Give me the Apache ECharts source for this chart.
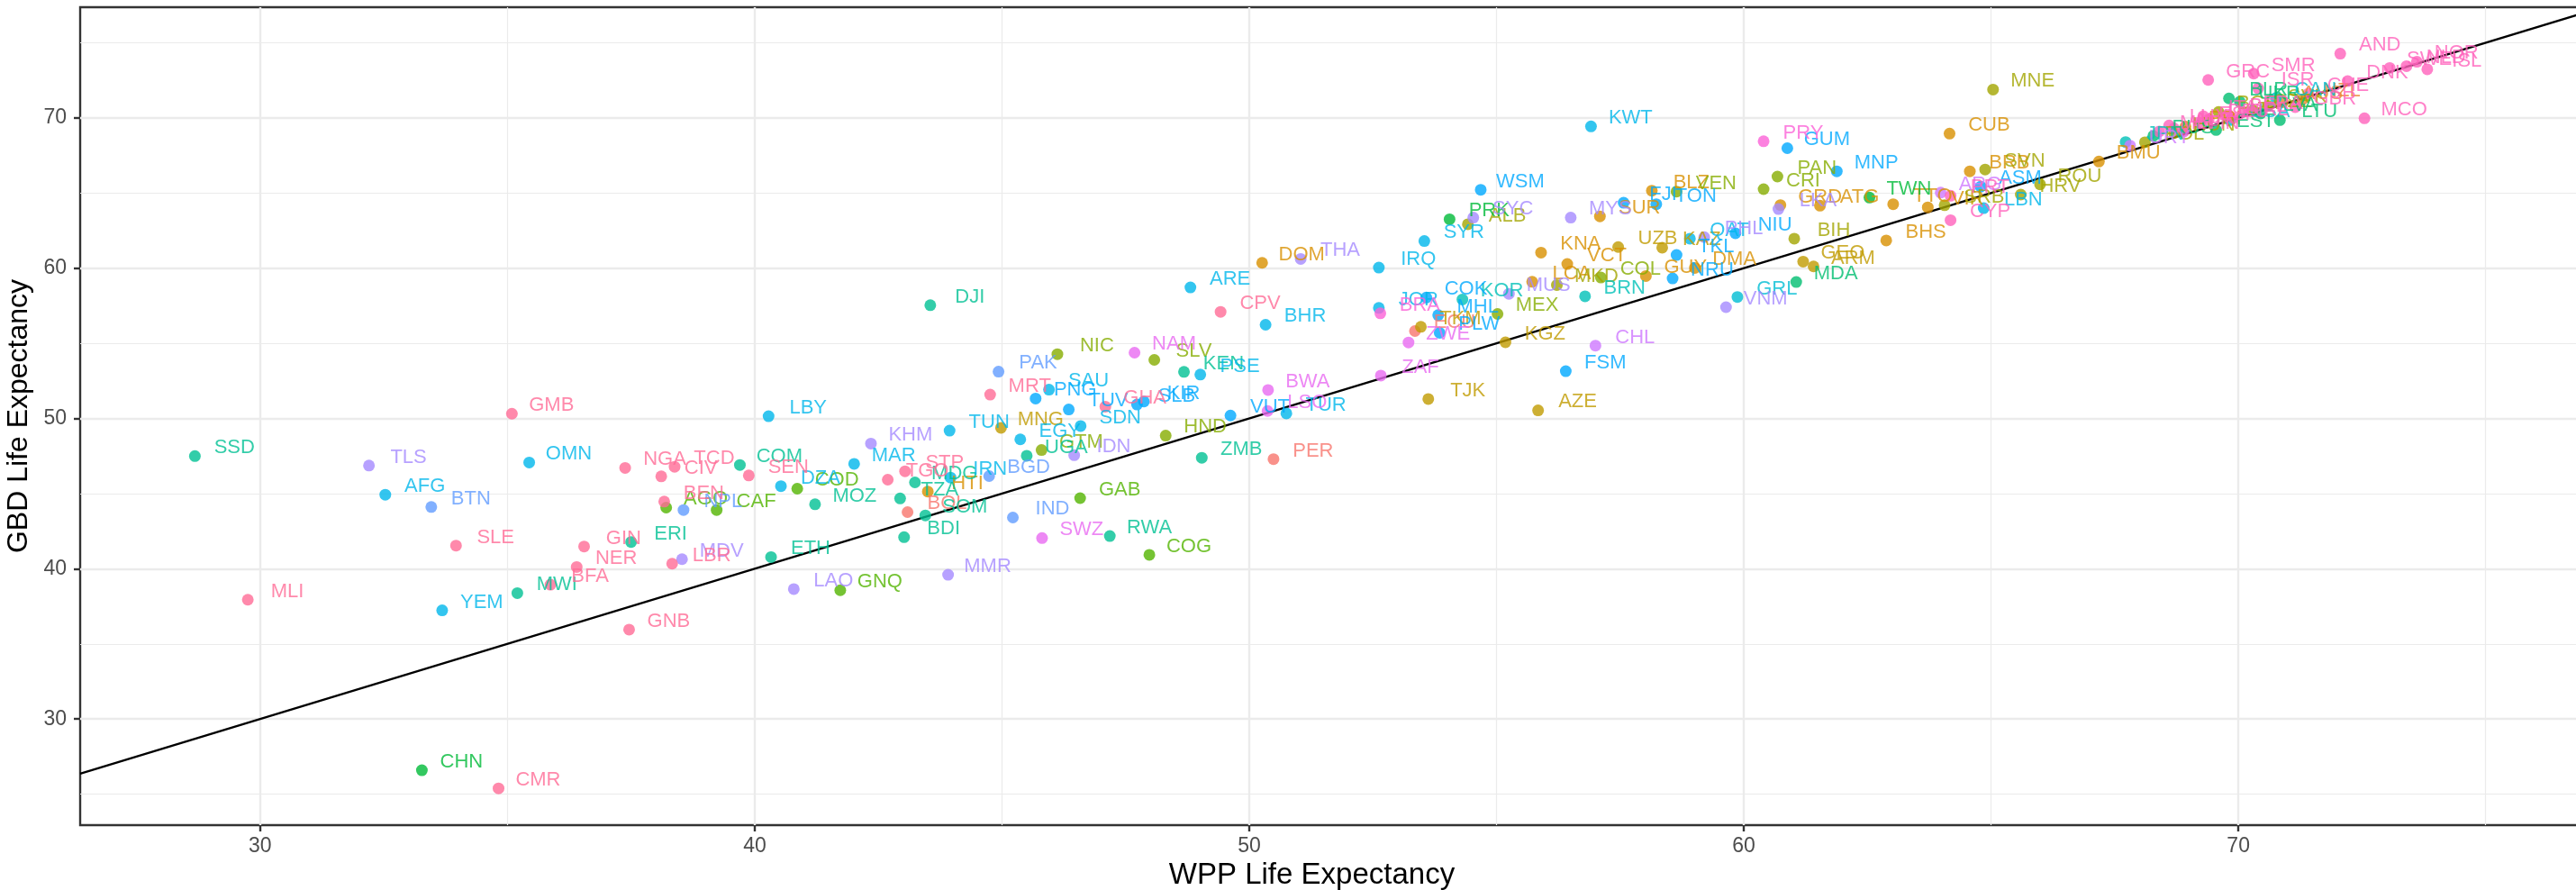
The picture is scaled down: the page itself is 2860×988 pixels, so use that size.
<!DOCTYPE html>
<html><head><meta charset="utf-8">
<script src="https://cdn.jsdelivr.net/npm/echarts@6/dist/echarts.min.js"></script>
<style>html,body{margin:0;padding:0;background:#fff}#c{width:2860px;height:988px}</style>
</head><body><div id="c"></div>
<script>
// ---- data ----
const regions = ["Andean Latin America","Australasia","Caribbean","Central Asia","Central Europe",
 "Central Latin America","Central Sub-Saharan Africa","East Asia","Eastern Europe","Eastern Sub-Saharan Africa",
 "High-income Asia Pacific","High-income North America","North Africa and Middle East","Oceania","South Asia",
 "Southeast Asia","Southern Latin America","Southern Sub-Saharan Africa","Tropical Latin America","Western Europe",
 "Western Sub-Saharan Africa"];
const regionColors = ["#F8766D","#EA8331","#D89000","#C09B00","#A3A500","#86AC00","#53B400","#00BA38","#00BE70",
 "#00C094","#00C0B8","#00BDD3","#00B6EB","#00A9FF","#619CFF","#A58AFF","#CE78FF","#E96AF1","#FB61D7","#FF62BC","#FF6B96"];

const iso = [
 "PER","BOL","ECU",
 "AUS","NZL",
 "DOM","CUB","HTI","BLZ","SUR","GUY","KNA","VCT","LCA","DMA","GRD","ATG","TTO","BHS","BRB","VIR","BMU","PRI",
 "MNG","TJK","KGZ","AZE","UZB","KAZ","TKM","ARM","GEO",
 "ALB","BIH","MKD","MNE","SRB","SVN","HRV","ROU","POL","HUN","CZE","SVK","BGR",
 "VEN","CRI","PAN","MEX","COL","NIC","SLV","HND","GTM",
 "AGO","CAF","COD","COG","GAB","GNQ",
 "CHN","PRK","TWN",
 "BLR","UKR","LTU","LVA","EST","RUS","MDA",
 "SSD","ERI","ETH","KEN","MWI","MOZ","RWA","SOM","TZA","UGA","ZMB","BDI","COM","DJI","MDG",
 "KOR","BRN","JPN",
 "GRL","USA","CAN",
 "AFG","OMN","LBY","YEM","TUN","SAU","SDN","EGY","DZA","MAR","IRN","ARE","BHR","IRQ","SYR","KWT","JOR","TUR","PSE","QAT","LBN",
 "PNG","TUV","SLB","KIR","VUT","FJI","TON","WSM","COK","MHL","PLW","FSM","NRU","TKL","NIU","GUM","MNP","ASM",
 "PAK","IND","BGD","NPL","BTN",
 "TLS","KHM","LAO","MMR","IDN","MDV","THA","MYS","MUS","SYC","PHL","VNM","LKA",
 "CHL","ARG","URY",
 "NAM","BWA","LSO","SWZ","ZAF","ZWE",
 "BRA","PRY",
 "CYP","PRT","GRC","AND","MCO","SMR","ISR","DNK","CHE","GBR","SWE","NLD","NOR","ISL","ITA","AUT","FIN","DEU","BEL","FRA","IRL","ESP","LUX","MLT",
 "GMB","MLI","SLE","NER","BFA","GIN","GNB","CMR","NGA","TCD","CIV","SEN","BEN","TGO","STP","MRT","LBR","GHA","CPV"
];
const wpp = [
 50.49,43.09,53.35,
 70.90,71.29,
 50.26,64.16,43.50,58.14,57.09,58.02,55.90,56.43,55.72,59.01,60.74,61.54,63.02,62.88,64.57,63.72,67.18,68.93,
 44.98,53.62,55.18,55.84,57.46,58.35,53.47,61.41,61.20,
 54.42,61.02,56.22,65.04,64.06,64.88,65.60,65.99,68.11,68.70,70.30,70.60,69.60,
 58.64,60.40,60.68,55.02,57.11,46.12,48.08,48.31,45.80,
 38.21,39.23,40.86,47.98,46.58,41.73,
 33.27,54.05,62.54,
 69.81,70.03,70.84,70.45,69.55,68.28,61.06,
 28.68,37.50,40.33,48.68,35.20,41.22,47.18,43.45,42.94,45.50,49.04,43.02,39.70,43.55,43.24,
 54.31,56.79,67.72,
 59.87,69.83,70.76,
 32.53,35.44,40.28,33.68,43.94,45.95,46.59,45.37,40.53,42.01,43.96,48.81,50.33,52.62,53.54,56.91,52.62,50.75,49.01,58.91,64.85,
 45.68,46.35,47.73,47.87,49.62,57.57,58.23,54.68,53.58,53.82,53.85,56.40,58.56,58.64,59.83,60.88,61.88,64.79,
 44.93,45.22,44.74,38.56,33.46,
 32.20,42.35,40.79,43.91,46.46,38.53,51.04,56.50,55.25,54.53,59.20,59.64,60.70,
 57.00,63.98,67.81,
 47.68,50.38,50.37,45.81,52.66,53.22,
 52.65,60.40,
 64.18,64.18,69.39,72.06,72.55,70.31,70.40,72.21,71.42,71.15,73.06,73.40,73.61,73.82,69.29,68.70,68.90,69.40,69.80,70.10,69.90,69.20,68.60,68.40,
 35.09,29.75,33.96,36.40,35.87,36.55,37.46,34.82,37.38,38.38,38.11,39.88,38.17,42.69,43.04,44.76,38.33,47.09,49.42
];
const gbd = [
 47.30,43.77,55.82,
 71.05,71.22,
 60.36,68.96,45.14,65.16,63.45,59.48,61.04,60.28,59.10,60.02,64.20,64.16,64.26,61.85,66.45,64.05,67.10,69.42,
 49.38,51.30,55.07,50.54,61.41,61.37,56.10,60.12,60.44,
 62.93,61.97,58.88,71.89,64.19,66.57,64.90,65.58,68.38,69.00,70.50,70.80,70.40,
 65.10,65.26,66.10,56.96,59.38,54.28,53.90,48.86,47.90,
 44.07,43.91,45.33,40.93,44.70,38.57,
 26.59,63.26,64.70,
 71.30,71.08,69.86,70.30,69.20,68.80,59.08,
 47.50,41.78,40.78,53.10,38.38,44.29,42.18,43.55,44.68,47.52,47.39,42.10,46.91,57.54,45.75,
 57.92,58.13,68.40,
 58.09,69.86,71.33,
 44.93,47.07,50.15,37.23,49.19,51.92,49.50,48.61,45.50,46.98,46.07,58.72,56.24,60.04,61.81,69.44,57.36,50.34,52.92,61.97,64.00,
 51.33,50.60,50.93,51.13,50.20,64.36,64.26,65.22,58.05,56.88,55.70,53.15,59.32,60.88,62.33,67.99,66.45,65.43,
 53.12,43.41,46.17,43.91,44.11,
 46.87,48.33,38.65,39.60,47.56,40.64,60.62,63.37,58.30,63.37,62.07,57.41,63.94,
 54.85,65.03,68.16,
 54.38,51.90,50.50,42.04,52.86,55.06,
 57.00,68.45,
 63.20,64.82,72.53,74.28,69.98,72.95,71.97,72.45,71.63,70.72,73.33,73.45,73.74,73.24,70.12,69.30,69.10,69.90,70.20,70.40,70.00,69.70,69.50,69.10,
 50.32,37.94,41.54,40.12,38.94,41.48,35.95,25.39,46.71,46.79,46.15,46.21,44.47,45.93,46.49,51.59,40.34,50.79,57.10
];
const regionCounts = [3,2,18,9,13,9,6,3,7,15,3,3,21,18,5,13,3,6,2,24,19];

const xLimits = [26.36, 76.9];
const yLimits = [22.94, 77.37];
const xMajor = [30,40,50,60,70];
const xMinor = [35,45,55,65,75];
const yMajor = [30,40,50,60,70];
const yMinor = [25,35,45,55,65,75];
const labelNudge = [0.8, 0.55]; // data units, as in the source plot

// ---- build ----
const regionOf = [];
regionCounts.forEach((n,i)=>{for(let k=0;k<n;k++) regionOf.push(i);});

const grid = {left:89, top:8, right:-4, bottom:72};
const W = 2860, H = 988;
const pxPerX = (W - grid.left - grid.right) / (xLimits[1]-xLimits[0]);
const pxPerY = (H - grid.top - grid.bottom) / (yLimits[1]-yLimits[0]);
const SYM = 13;

const FONT = "'Liberation Sans', Arial, Helvetica, sans-serif";
const points = iso.map((c,i)=>{
  const col = regionColors[regionOf[i]];
  return {name:c, value:[wpp[i], gbd[i]], itemStyle:{color:col},
          label:{color:col}};
});

const chart = echarts.init(document.getElementById('c'), null, {renderer:'canvas'});
const axisText = {color:'#4D4D4D', fontSize:23, fontFamily:FONT};
chart.setOption({
  animation:false,
  backgroundColor:'#ffffff',
  grid:{...grid, show:true, containLabel:false, outerBoundsMode:'none',
        borderColor:'#333333', borderWidth:2.4, backgroundColor:'transparent'},
  xAxis:[
    {type:'value', min:xLimits[0], max:xLimits[1], position:'bottom',
     name:'WPP Life Expectancy', nameLocation:'middle', nameGap:39,
     nameTextStyle:{color:'#000000', fontSize:33, fontFamily:FONT, padding:[0,40,0,0]},
     axisLine:{show:false},
     axisTick:{show:true, length:7, lineStyle:{color:'#333333', width:2.4}, customValues:xMajor},
     axisLabel:{...axisText, margin:12, customValues:xMajor},
     splitLine:{show:true, lineStyle:{color:'#EBEBEB', width:2.4}}},
    {type:'value', min:xLimits[0], max:xLimits[1], position:'bottom',
     axisLine:{show:false}, axisLabel:{show:false},
     axisTick:{show:false, customValues:xMinor},
     splitLine:{show:true, lineStyle:{color:'#EBEBEB', width:1.2}}}
  ],
  yAxis:[
    {type:'value', min:yLimits[0], max:yLimits[1], position:'left',
     name:'GBD Life Expectancy', nameLocation:'middle', nameGap:46, nameRotate:90,
     nameTextStyle:{color:'#000000', fontSize:32, fontFamily:FONT},
     axisLine:{show:false},
     axisTick:{show:true, length:7, lineStyle:{color:'#333333', width:2.4}, customValues:yMajor},
     axisLabel:{...axisText, margin:15, customValues:yMajor},
     splitLine:{show:true, lineStyle:{color:'#EBEBEB', width:2.4}}},
    {type:'value', min:yLimits[0], max:yLimits[1], position:'left',
     axisLine:{show:false}, axisLabel:{show:false},
     axisTick:{show:false, customValues:yMinor},
     splitLine:{show:true, lineStyle:{color:'#EBEBEB', width:1.2}}}
  ],
  series:[
    {type:'line', xAxisIndex:0, yAxisIndex:0, z:2, silent:true, symbol:'none',
     data:[[xLimits[0], xLimits[0]],[xLimits[1], xLimits[1]]],
     lineStyle:{color:'#000000', width:2.4}},
    {type:'scatter', xAxisIndex:0, yAxisIndex:0, z:3, symbolSize:SYM, silent:true,
     data:points,
     label:{show:true, formatter:p=>p.name,
            position:[SYM/2 + labelNudge[0]*pxPerX, SYM/2 - labelNudge[1]*pxPerY],
            align:'center', verticalAlign:'middle',
            fontSize:22, fontFamily:FONT},
     labelLayout:{hideOverlap:false}}
  ]
});
</script></body></html>
